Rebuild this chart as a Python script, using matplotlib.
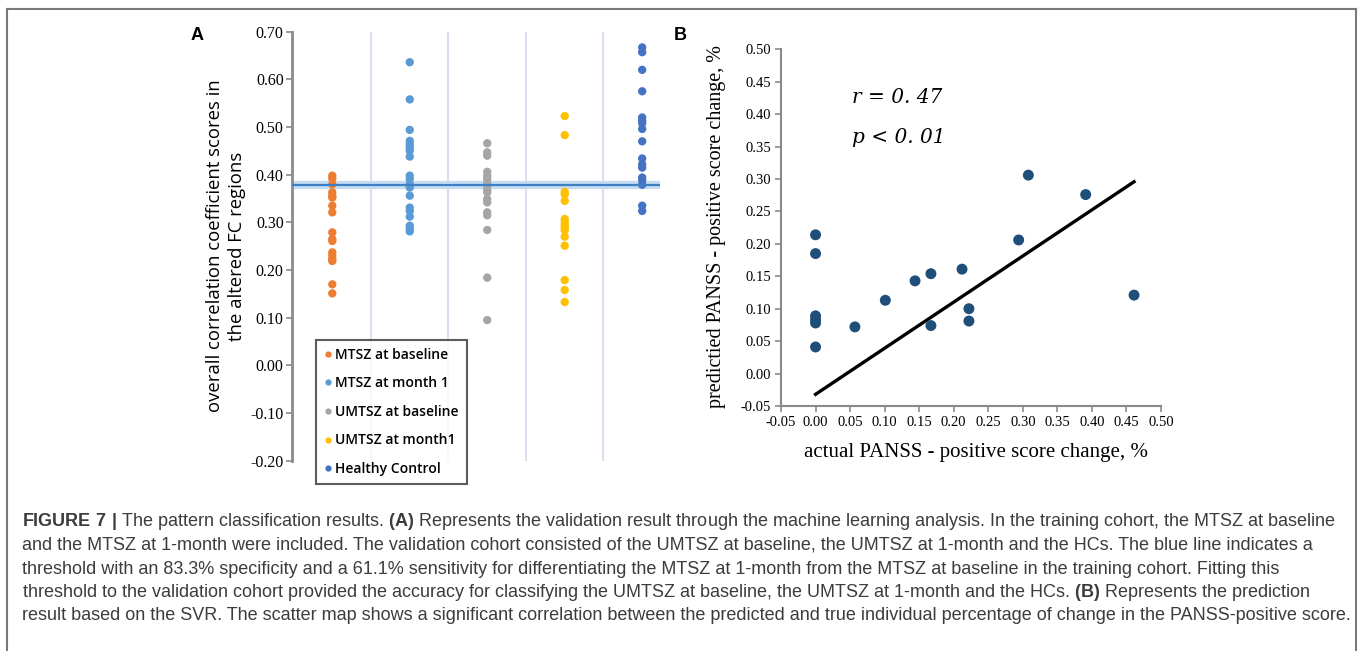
import matplotlib
matplotlib.use("Agg")
import matplotlib.pyplot as plt
from matplotlib.lines import Line2D
import numpy as np

W, H = 1358, 651

# Panel A data
groups = ["MTSZ at baseline", "MTSZ at month 1", "UMTSZ at baseline", "UMTSZ at month1", "Healthy Control"]
group_colors = ["#ED7D31", "#5B9BD5", "#A5A5A5", "#FFC000", "#4472C4"]
mtsz_base = [0.398, 0.392, 0.380, 0.363, 0.356, 0.352, 0.335, 0.321, 0.279, 0.265,
             0.261, 0.237, 0.230, 0.223, 0.219, 0.170, 0.151]
mtsz_m1 = [0.636, 0.558, 0.494, 0.471, 0.464, 0.457, 0.450, 0.438, 0.398, 0.391,
           0.380, 0.373, 0.356, 0.331, 0.324, 0.312, 0.293, 0.286, 0.281]
umtsz_base = [0.466, 0.447, 0.440, 0.406, 0.398, 0.391, 0.382, 0.377, 0.368, 0.363,
              0.349, 0.342, 0.321, 0.315, 0.284, 0.184, 0.095]
umtsz_m1 = [0.523, 0.483, 0.364, 0.359, 0.345, 0.307, 0.300, 0.294, 0.289, 0.284,
            0.270, 0.251, 0.179, 0.158, 0.133]
hc = [0.667, 0.657, 0.620, 0.575, 0.520, 0.513, 0.508, 0.496, 0.470, 0.434,
      0.422, 0.415, 0.394, 0.389, 0.379, 0.335, 0.324]
threshold = 0.378
a_yticks = [0.70, 0.60, 0.50, 0.40, 0.30, 0.20, 0.10, 0.00, -0.10, -0.20]

# Panel B data
actual = [0.0, 0.0, 0.0, 0.0, 0.0, 0.0, 0.057, 0.101, 0.144, 0.167, 0.167, 0.212,
          0.222, 0.222, 0.294, 0.308, 0.391, 0.461]
predicted = [0.214, 0.185, 0.089, 0.083, 0.078, 0.041, 0.072, 0.113, 0.143, 0.154,
             0.074, 0.161, 0.100, 0.081, 0.206, 0.306, 0.276, 0.121]
fit_slope = 0.711
fit_intercept = -0.032
b_ticks = [-0.05, 0.00, 0.05, 0.10, 0.15, 0.20, 0.25, 0.30, 0.35, 0.40, 0.45, 0.50]

caption = [
    r"$\bf{FIGURE\ 7\ |}$ The pattern classification results. $\bf{(A)}$ Represents the validation result through the machine learning analysis. In the training cohort, the MTSZ at baseline",
    "and the MTSZ at 1-month were included. The validation cohort consisted of the UMTSZ at baseline, the UMTSZ at 1-month and the HCs. The blue line indicates a",
    "threshold with an 83.3% specificity and a 61.1% sensitivity for differentiating the MTSZ at 1-month from the MTSZ at baseline in the training cohort. Fitting this",
    r"threshold to the validation cohort provided the accuracy for classifying the UMTSZ at baseline, the UMTSZ at 1-month and the HCs. $\bf{(B)}$ Represents the prediction",
    "result based on the SVR. The scatter map shows a significant correlation between the predicted and true individual percentage of change in the PANSS-positive score.",
]

plt.rcParams["mathtext.fontset"] = "custom"
plt.rcParams["mathtext.rm"] = "Liberation Sans"
plt.rcParams["mathtext.bf"] = "Liberation Sans:bold"

fig = plt.figure(figsize=(W / 100, H / 100), dpi=100)

serif = "Liberation Serif"
spine_gray = "#8a8a8a"

# ---- Panel A ----
axA = fig.add_axes([292 / W, 1 - 460.7 / H, 368 / W, 429 / H])
values = [mtsz_base, mtsz_m1, umtsz_base, umtsz_m1, hc]
for i, (vals, col) in enumerate(zip(values, group_colors)):
    axA.scatter(np.full(len(vals), i + 1), vals, s=36, color=col, edgecolors="none", zorder=3)
for b in np.arange(1.5, len(groups), 1.0):
    axA.axvline(b, color="#dcdff0", lw=1.5, zorder=1)
axA.axhline(threshold, color="#c5dcf2", lw=6, zorder=2)
axA.axhline(threshold, color="#3f7fc4", lw=1.6, zorder=4)
axA.set_xlim(0.48, 5.23)
axA.set_ylim(-0.20, 0.70)
axA.set_yticks(a_yticks)
axA.set_yticklabels([f"{t:.2f}" for t in a_yticks], fontfamily=serif, fontsize=11.5)
axA.set_xticks([])
for s in ["top", "right", "bottom"]:
    axA.spines[s].set_visible(False)
axA.spines["left"].set_color(spine_gray)
axA.spines["left"].set_linewidth(2)
axA.tick_params(axis="y", colors=spine_gray, labelcolor="black", length=4, width=1.2, pad=2)

fig.text(226 / W, 1 - 246 / H, "overall correlation coefficient scores in\nthe altered FC regions",
         rotation=90, ha="center", va="center", multialignment="center",
         fontfamily="Open Sans", fontweight="medium", fontsize=13.3, linespacing=1.25)

handles = [Line2D([], [], marker="o", ls="none", markersize=4.5, color=c, markeredgewidth=0)
               for c in group_colors]
leg = axA.legend(handles, groups, loc="upper left", bbox_to_anchor=(316 / W, 1 - 340 / H),
                 bbox_transform=fig.transFigure, borderaxespad=0, frameon=True, fancybox=False,
                 handlelength=0.6, handletextpad=0.25, labelspacing=1.05, borderpad=0.55,
                 prop={"family": "Open Sans", "weight": "semibold", "size": 10})
leg.get_frame().set_edgecolor("#333333")
leg.get_frame().set_linewidth(1.5)

fig.text(197 / W, 1 - 35 / H, "A", fontsize=13, fontweight="bold", fontfamily="Liberation Sans",
         ha="center", va="center")

# ---- Panel B ----
axB = fig.add_axes([781 / W, 1 - 406 / H, 380 / W, 356.7 / H])
axB.scatter(actual, predicted, s=62, color="#1f4e79", edgecolors="none", zorder=3)
fx = np.array([min(actual), max(actual)])
axB.plot(fx, fit_slope * fx + fit_intercept, color="black", lw=2.4, zorder=2)
axB.set_xlim(-0.05, 0.50)
axB.set_ylim(-0.05, 0.50)
axB.set_xticks(b_ticks)
axB.set_yticks(b_ticks)
axB.set_xticklabels([f"{t:.2f}" for t in b_ticks], fontfamily=serif, fontsize=10.5)
axB.set_yticklabels([f"{t:.2f}" for t in b_ticks], fontfamily=serif, fontsize=10.5)
for s in ["top", "right"]:
    axB.spines[s].set_visible(False)
for s in ["left", "bottom"]:
    axB.spines[s].set_color(spine_gray)
    axB.spines[s].set_linewidth(1.5)
axB.tick_params(colors=spine_gray, labelcolor="black", length=4, width=1.2, pad=3)
axB.text(0.187, 0.866, "r = 0. 47", transform=axB.transAxes, fontfamily="DejaVu Serif",
         style="italic", fontsize=14.5, va="center")
axB.text(0.187, 0.754, "p < 0. 01", transform=axB.transAxes, fontfamily="DejaVu Serif",
         style="italic", fontsize=14.5, va="center")

fig.text(976 / W, 1 - 453 / H, "actual PANSS - positive score change, %", fontfamily=serif,
         fontsize=15, ha="center", va="center")
fig.text(716 / W, 1 - 226 / H, "predictied PANSS - positive score change, %", fontfamily=serif,
         fontsize=14.5, ha="center", va="center", rotation=90)
fig.text(680 / W, 1 - 35 / H, "B", fontsize=13, fontweight="bold", fontfamily="Liberation Sans",
         ha="center", va="center")

# ---- Caption ----
cap_texts = []
for k, line in enumerate(caption):
    t = fig.text(22 / W, 1 - (522 + 23.5 * k) / H, line, fontfamily="Liberation Sans",
                 fontsize=12, color="#3c3c3c", ha="left", va="center")
    cap_texts.append(t)
renderer = fig.canvas.get_renderer()
w0 = cap_texts[4].get_window_extent(renderer).width
for t in cap_texts:
    t.set_fontsize(12 * 1326 / w0)

# frame around the figure (open at bottom)
frame_kw = dict(color="#7a7a7a", lw=1.5, transform=fig.transFigure)
fig.add_artist(Line2D([7 / W, 1356 / W], [1 - 9 / H, 1 - 9 / H], **frame_kw))
fig.add_artist(Line2D([7 / W, 7 / W], [1 - 9 / H, 0], **frame_kw))
fig.add_artist(Line2D([1356 / W, 1356 / W], [1 - 9 / H, 0], **frame_kw))

fig.savefig("out.png", dpi=100)
